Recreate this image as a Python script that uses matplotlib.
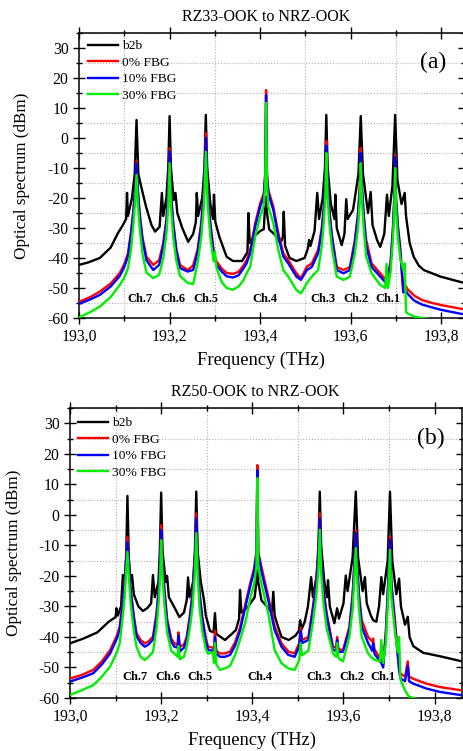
import matplotlib
matplotlib.use("Agg")
import matplotlib.pyplot as plt
from matplotlib.ticker import MultipleLocator, FuncFormatter

plt.rcParams['font.family'] = ['Liberation Serif', 'DejaVu Serif']
plt.rcParams['axes.unicode_minus'] = False

labels = ["b2b", "0% FBG", "10% FBG", "30% FBG"]
colors = ["black", "#ff0000", "#0000ff", "#00ee00"]
channels = ["Ch.7", "Ch.6", "Ch.5", "Ch.4", "Ch.3", "Ch.2", "Ch.1"]
titles = ["RZ33-OOK to NRZ-OOK", "RZ50-OOK to NRZ-OOK"]

# ---- panel (a): RZ33 ----
a_f_b2b = [193.000, 193.020, 193.046, 193.070, 193.086, 193.095, 193.104, 193.106, 193.108, 193.117,
           193.123, 193.127, 193.131, 193.139, 193.148, 193.160, 193.168, 193.178, 193.183, 193.186,
           193.193, 193.197, 193.200, 193.203, 193.209, 193.213, 193.217, 193.228, 193.241, 193.252,
           193.258, 193.260, 193.263, 193.272, 193.277, 193.280, 193.283, 193.290, 193.296, 193.298,
           193.301, 193.310, 193.326, 193.340, 193.360, 193.372, 193.374, 193.377, 193.385, 193.400,
           193.408, 193.411, 193.413, 193.415, 193.420, 193.433, 193.445, 193.450, 193.452, 193.455,
           193.465, 193.480, 193.498, 193.505, 193.508, 193.511, 193.520, 193.526, 193.530, 193.538,
           193.543, 193.546, 193.549, 193.556, 193.564, 193.566, 193.569, 193.580, 193.586, 193.590,
           193.593, 193.605, 193.617, 193.622, 193.627, 193.638, 193.644, 193.648, 193.658, 193.665,
           193.674, 193.680, 193.684, 193.692, 193.698, 193.703, 193.712, 193.719, 193.722, 193.730,
           193.739, 193.750, 193.761, 193.798, 193.850]
a_b2b = [-42.3, -41.5, -40.0, -36.5, -31.7, -29.5, -27.0, -18.3, -26.0, -20.0,
         -12.0, 6.0, -12.0, -17.3, -22.9, -29.0, -31.2, -29.6, -18.3, -26.0,
         -20.0, -10.0, 7.3, -10.0, -20.7, -18.3, -25.0, -30.0, -34.6, -32.0,
         -28.0, -18.3, -26.0, -20.0, -10.0, 7.7, -10.0, -22.0, -27.0, -18.9,
         -28.0, -33.0, -39.6, -41.0, -41.0, -38.0, -25.0, -35.0, -33.0, -31.0,
         -30.4, -22.0, -19.6, -25.0, -30.5, -32.3, -35.0, -33.0, -24.6, -36.0,
         -40.0, -41.0, -40.0, -37.0, -34.0, -36.0, -31.0, -18.3, -27.0, -20.0,
         -10.0, 7.7, -10.0, -22.0, -27.0, -18.9, -30.0, -35.7, -32.0, -20.4,
         -27.0, -24.0, -12.0, 7.3, -12.0, -25.0, -18.0, -29.0, -34.0, -36.3,
         -32.0, -18.9, -26.0, -16.0, 7.7, -14.0, -22.0, -18.3, -26.0, -35.0,
         -39.6, -42.5, -44.0, -46.2, -48.3]

a_f_fbg = [193.000, 193.025, 193.046, 193.070, 193.090, 193.100, 193.108, 193.115, 193.120, 193.124,
           193.127, 193.130, 193.134, 193.140, 193.149, 193.164, 193.177, 193.186, 193.193, 193.197,
           193.200, 193.203, 193.208, 193.215, 193.223, 193.240, 193.252, 193.262, 193.270, 193.276,
           193.280, 193.284, 193.290, 193.297, 193.300, 193.304, 193.315, 193.326, 193.340, 193.352,
           193.363, 193.370, 193.378, 193.389, 193.400, 193.408, 193.411, 193.413, 193.415, 193.418,
           193.429, 193.440, 193.451, 193.462, 193.480, 193.490, 193.503, 193.514, 193.528, 193.536,
           193.541, 193.544, 193.546, 193.549, 193.553, 193.558, 193.569, 193.584, 193.598, 193.609,
           193.616, 193.620, 193.622, 193.625, 193.629, 193.634, 193.646, 193.665, 193.676, 193.679,
           193.682, 193.688, 193.693, 193.696, 193.698, 193.700, 193.704, 193.709, 193.716, 193.719,
           193.722, 193.726, 193.740, 193.757, 193.780, 193.800, 193.850]
a_fbg0 = [-54.6, -53.0, -51.2, -48.5, -45.0, -42.0, -38.5, -31.0, -24.0, -16.0,
          -7.6, -17.0, -25.0, -33.0, -39.6, -42.3, -40.7, -35.0, -27.0, -18.0,
          -3.4, -18.0, -28.0, -37.0, -42.3, -44.0, -42.5, -37.0, -28.0, -17.0,
          1.6, -17.0, -28.0, -37.0, -39.5, -41.2, -43.5, -45.0, -45.3, -44.6,
          -42.6, -40.7, -37.3, -28.4, -21.8, -18.4, -12.0, 16.0, -12.0, -17.3,
          -22.9, -31.7, -38.4, -40.7, -45.1, -46.8, -42.9, -41.8, -37.3, -30.0,
          -22.0, -14.0, -1.0, -15.0, -24.0, -31.8, -43.0, -44.0, -43.0, -34.0,
          -25.0, -16.0, -3.3, -17.0, -26.0, -34.0, -41.8, -45.1, -47.0, -47.3,
          -46.0, -41.0, -30.0, -20.0, -5.7, -20.0, -29.0, -36.0, -50.5, -49.0,
          -49.5, -50.5, -52.5, -54.0, -55.0, -55.7, -57.1]
a_fbg10 = [-55.3, -53.8, -52.3, -49.5, -46.0, -43.0, -39.5, -32.0, -25.0, -17.0,
           -8.5, -18.0, -26.0, -34.0, -40.8, -44.0, -42.3, -36.0, -28.0, -19.0,
           -4.5, -19.0, -29.0, -38.0, -43.4, -44.5, -44.0, -38.0, -29.0, -18.0,
           0.0, -18.0, -29.5, -38.0, -40.5, -42.3, -44.5, -46.1, -46.5, -45.8,
           -43.5, -41.8, -38.4, -29.5, -22.9, -19.5, -13.0, 14.3, -13.0, -18.5,
           -24.0, -32.8, -39.5, -41.8, -46.2, -47.3, -44.0, -43.0, -38.4, -31.0,
           -23.0, -15.0, -2.6, -16.0, -25.0, -33.0, -44.0, -45.1, -44.0, -35.0,
           -26.0, -17.0, -5.0, -18.0, -27.0, -36.0, -43.0, -46.2, -48.0, -48.4,
           -47.0, -42.0, -31.0, -21.0, -6.4, -21.0, -30.0, -37.5, -51.5, -51.0,
           -51.0, -52.0, -54.2, -55.5, -56.5, -57.3, -58.8]
a_fbg30 = [-59.8, -58.0, -56.2, -53.0, -49.0, -46.5, -43.5, -37.0, -29.0, -21.0,
           -12.3, -22.0, -30.0, -38.5, -44.9, -46.7, -45.6, -40.0, -32.0, -23.0,
           -8.4, -23.0, -33.0, -41.0, -46.0, -48.3, -48.7, -41.5, -33.0, -22.0,
           -4.6, -22.0, -33.0, -41.0, -38.0, -43.4, -48.0, -50.0, -50.6, -49.5,
           -47.5, -45.1, -42.9, -32.9, -26.2, -22.5, -16.0, 11.7, -16.0, -22.9,
           -28.4, -37.3, -44.0, -46.2, -50.7, -51.8, -48.4, -46.2, -44.0, -36.0,
           -27.0, -19.0, -5.0, -20.0, -29.0, -36.2, -46.2, -47.3, -46.2, -38.5,
           -30.0, -21.0, -8.4, -22.0, -31.0, -39.5, -45.1, -49.0, -50.0, -42.0,
           -50.0, -44.5, -34.0, -24.0, -10.0, -24.0, -33.0, -40.0, -44.0, -41.8,
           -58.0, -58.5, -59.5, -60.0, -60.5, -61.0, -61.0]

# ---- panel (b): RZ50 ----
b_f_b2b = [193.000, 193.030, 193.060, 193.085, 193.100, 193.102, 193.105, 193.112, 193.116, 193.119,
           193.123, 193.126, 193.129, 193.133, 193.136, 193.140, 193.150, 193.160, 193.170, 193.178,
           193.182, 193.186, 193.194, 193.197, 193.200, 193.203, 193.210, 193.213, 193.217, 193.228,
           193.240, 193.250, 193.256, 193.259, 193.262, 193.270, 193.274, 193.277, 193.280, 193.287,
           193.294, 193.298, 193.307, 193.315, 193.318, 193.321, 193.340, 193.355, 193.364, 193.371,
           193.373, 193.376, 193.391, 193.405, 193.409, 193.411, 193.413, 193.420, 193.435, 193.443,
           193.446, 193.449, 193.455, 193.464, 193.480, 193.495, 193.502, 193.505, 193.508, 193.515,
           193.522, 193.529, 193.533, 193.541, 193.545, 193.548, 193.551, 193.558, 193.564, 193.566,
           193.570, 193.580, 193.586, 193.590, 193.600, 193.605, 193.609, 193.620, 193.627, 193.632,
           193.642, 193.647, 193.651, 193.660, 193.665, 193.672, 193.678, 193.683, 193.687, 193.697,
           193.702, 193.707, 193.716, 193.722, 193.726, 193.735, 193.741, 193.745, 193.753, 193.775,
           193.811, 193.860]
b_b2b = [-42.1, -40.5, -38.5, -35.0, -33.5, -30.6, -33.0, -30.0, -19.7, -26.0,
         -15.0, 6.2, -14.0, -22.0, -19.7, -26.0, -30.0, -31.5, -30.5, -29.0,
         -19.7, -27.0, -22.0, -12.0, 7.3, -12.0, -22.0, -20.0, -27.0, -30.0,
         -33.5, -32.0, -28.0, -20.5, -27.0, -22.0, -12.0, 7.6, -12.0, -22.0,
         -28.0, -33.0, -38.0, -38.5, -32.2, -39.0, -41.0, -39.0, -37.7, -34.0,
         -24.6, -32.0, -30.0, -27.0, -22.0, -15.9, -22.0, -28.0, -30.5, -32.0,
         -25.2, -33.0, -36.0, -40.0, -41.0, -39.5, -38.0, -34.5, -37.5, -35.0,
         -30.0, -20.4, -27.0, -20.0, -10.0, 7.6, -10.0, -22.0, -27.0, -21.4,
         -30.0, -35.5, -30.6, -34.0, -29.0, -19.9, -25.0, -14.0, 7.6, -14.0,
         -25.0, -20.4, -29.0, -33.0, -34.5, -35.0, -30.0, -20.4, -26.0, -15.0,
         7.6, -15.0, -26.0, -20.9, -30.0, -36.0, -33.4, -40.0, -43.0, -45.2,
         -46.3, -48.0]

b_f_fbg = [193.000, 193.025, 193.051, 193.070, 193.088, 193.103, 193.109, 193.116, 193.120, 193.123,
           193.126, 193.129, 193.133, 193.140, 193.146, 193.155, 193.164, 193.172, 193.182, 193.190,
           193.195, 193.198, 193.200, 193.203, 193.207, 193.213, 193.222, 193.229, 193.236, 193.238,
           193.241, 193.250, 193.256, 193.263, 193.269, 193.274, 193.277, 193.280, 193.284, 193.290,
           193.298, 193.303, 193.313, 193.316, 193.318, 193.321, 193.329, 193.340, 193.351, 193.362,
           193.373, 193.385, 193.396, 193.404, 193.409, 193.411, 193.413, 193.420, 193.435, 193.449,
           193.464, 193.479, 193.493, 193.503, 193.506, 193.509, 193.523, 193.533, 193.540, 193.545,
           193.548, 193.551, 193.556, 193.563, 193.577, 193.584, 193.586, 193.589, 193.599, 193.613,
           193.620, 193.624, 193.627, 193.630, 193.634, 193.640, 193.654, 193.663, 193.665, 193.668,
           193.680, 193.683, 193.687, 193.693, 193.698, 193.702, 193.705, 193.713, 193.719, 193.722,
           193.725, 193.735, 193.741, 193.744, 193.753, 193.782, 193.811, 193.860]
b_fbg0 = [-53.6, -52.5, -50.8, -48.0, -44.3, -39.5, -36.6, -28.0, -21.3, -14.0,
          -7.2, -15.0, -24.0, -33.0, -38.8, -41.0, -42.1, -41.5, -39.9, -32.0,
          -23.0, -14.0, -3.4, -15.0, -24.0, -34.0, -40.5, -42.1, -42.5, -38.5,
          -43.2, -42.5, -39.9, -33.0, -25.0, -14.0, 0.5, -14.0, -25.0, -33.0,
          -40.5, -43.2, -43.5, -44.0, -38.0, -44.5, -45.4, -45.4, -44.8, -41.8,
          -37.0, -29.0, -22.0, -17.5, -12.0, 16.3, -12.0, -17.0, -26.8, -36.6,
          -42.1, -44.8, -45.4, -42.0, -37.0, -41.0, -40.0, -30.0, -22.0, -13.0,
          0.5, -14.0, -24.0, -32.1, -43.2, -43.5, -40.0, -44.0, -44.3, -36.6,
          -26.0, -15.0, -4.9, -16.0, -26.0, -34.5, -40.0, -41.5, -40.5, -44.0,
          -47.0, -47.5, -49.1, -38.0, -22.0, -7.1, -22.0, -34.5, -45.0, -50.0,
          -52.0, -53.0, -48.0, -53.0, -53.7, -55.3, -56.4, -57.5]
b_fbg10 = [-54.6, -53.4, -51.9, -49.0, -45.4, -40.5, -37.6, -29.0, -22.3, -15.0,
           -8.9, -16.0, -25.0, -34.0, -39.8, -42.0, -43.2, -42.5, -40.9, -33.0,
           -24.0, -15.0, -5.0, -16.0, -25.0, -35.0, -41.5, -43.2, -43.5, -39.5,
           -44.8, -43.5, -40.9, -34.0, -26.0, -15.0, -1.1, -15.0, -26.0, -34.0,
           -41.5, -44.3, -44.5, -45.0, -40.0, -45.5, -46.5, -46.5, -45.9, -42.9,
           -38.0, -30.0, -23.0, -18.5, -13.0, 14.5, -13.0, -18.5, -28.0, -37.8,
           -43.2, -45.9, -46.5, -43.0, -38.0, -42.0, -41.0, -31.0, -23.0, -14.0,
           -1.1, -15.0, -25.0, -33.2, -44.3, -44.5, -41.0, -45.0, -44.8, -37.6,
           -27.0, -16.0, -6.0, -17.0, -27.0, -36.6, -42.0, -44.5, -42.0, -45.5,
           -48.0, -48.5, -50.0, -39.0, -23.0, -8.2, -23.0, -36.6, -46.0, -51.0,
           -53.5, -54.5, -49.5, -54.5, -55.3, -56.9, -58.0, -59.1]
b_fbg30 = [-59.0, -57.5, -55.8, -53.0, -49.7, -45.0, -42.1, -33.0, -26.8, -19.0,
           -12.1, -20.0, -29.0, -38.0, -43.2, -46.5, -47.6, -46.5, -45.0, -37.0,
           -28.0, -19.0, -8.3, -20.0, -29.0, -38.5, -44.5, -45.4, -46.5, -43.0,
           -47.3, -46.5, -43.2, -37.0, -30.0, -19.0, -6.0, -19.0, -30.0, -38.0,
           -44.0, -45.5, -45.0, -48.5, -42.0, -49.0, -50.8, -50.3, -49.5, -46.0,
           -41.0, -35.0, -27.0, -22.5, -17.0, 12.0, -17.0, -22.5, -32.3, -44.3,
           -48.6, -50.3, -50.8, -47.5, -42.0, -46.0, -44.5, -35.0, -27.0, -18.0,
           -4.9, -19.0, -29.0, -37.0, -45.4, -46.5, -42.0, -47.0, -48.0, -39.9,
           -31.0, -20.0, -10.9, -21.0, -31.0, -39.9, -45.4, -47.0, -47.0, -47.5,
           -48.0, -41.0, -48.5, -42.0, -27.0, -11.5, -27.0, -38.5, -45.0, -40.0,
           -54.0, -57.5, -59.0, -59.5, -60.0, -61.0, -61.0, -61.0]

panels = [
    dict(f_b2b=a_f_b2b, b2b=a_b2b, f_fbg=a_f_fbg, fbg=[a_fbg0, a_fbg10, a_fbg30],
         rect=[79 / 463, 1 - 318 / 751, 385 / 463, 285 / 751], xmax=193.85, tag="(a)",
         ch_f=[193.135, 193.208, 193.280, 193.411, 193.539, 193.612, 193.683], ch_y=-53.5,
         leg_xy=(88, 40), title_xy=(266, 17), xlab_y=360, xlab_x=261, ylab_x=22),
    dict(f_b2b=b_f_b2b, b2b=b_b2b, f_fbg=b_f_fbg, fbg=[b_fbg0, b_fbg10, b_fbg30],
         rect=[70 / 463, 1 - 698 / 751, 392 / 463, 290 / 751], xmax=193.86, tag="(b)",
         ch_f=[193.143, 193.215, 193.285, 193.416, 193.546, 193.618, 193.686], ch_y=-53.0,
         leg_xy=(78, 417), title_xy=(255, 392), xlab_y=740, xlab_x=252, ylab_x=14),
]

W, H = 463, 751
fig = plt.figure(figsize=(W / 100, H / 100), dpi=100)

for p, title in zip(panels, titles):
    ax = fig.add_axes(p["rect"])
    ax.plot(p["f_b2b"], p["b2b"], color=colors[0], lw=1.7, label=labels[0], zorder=2)
    for k, lev in enumerate(p["fbg"]):
        ax.plot(p["f_fbg"], lev, color=colors[k + 1], lw=1.7, label=labels[k + 1], zorder=3 + k)

    ax.set_xlim(193.0, p["xmax"])
    ax.set_ylim(-60, 35)
    ax.xaxis.set_major_locator(MultipleLocator(0.2))
    ax.xaxis.set_minor_locator(MultipleLocator(0.1))
    ax.yaxis.set_major_locator(MultipleLocator(10))
    ax.yaxis.set_minor_locator(MultipleLocator(5))
    ax.set_yticks(range(-60, 31, 10))
    ax.xaxis.set_major_formatter(FuncFormatter(lambda v, pos: f"{v:.1f}".replace(".", ",")))
    ax.tick_params(which="both", direction="inout", top=True, right=True, labelsize=11.3, width=1.0)
    ax.tick_params(which="major", length=8)
    ax.tick_params(which="minor", length=5)
    ax.grid(which="minor", linestyle=":", color="#b0b0b0", lw=0.8)
    for s in ax.spines.values():
        s.set_linewidth(1.1)

    for name, f in zip(channels, p["ch_f"]):
        ax.text(f, p["ch_y"], name, ha="center", va="center", fontsize=9, fontweight="bold", zorder=10)

    ax.text(0.955, 0.895, p["tag"], transform=ax.transAxes, ha="right", va="center", fontsize=17)

    lx, ly = p["leg_xy"]
    ax.legend(loc="upper left", bbox_to_anchor=(lx / W, 1 - ly / H), bbox_transform=fig.transFigure,
              frameon=False, fontsize=9.7, handlelength=2.25, handletextpad=0.25,
              labelspacing=0.3, borderpad=0, borderaxespad=0)

    tx, ty = p["title_xy"]
    fig.text(tx / W, 1 - ty / H, title, ha="center", va="center", fontsize=11.5)
    fig.text(p["xlab_x"] / W, 1 - p["xlab_y"] / H, "Frequency (THz)", ha="center", va="center", fontsize=13.3)
    rect = p["rect"]
    fig.text(p["ylab_x"] / W, rect[1] + rect[3] / 2, "Optical spectrum (dBm)", ha="center", va="center",
             rotation=90, fontsize=12.3)

fig.savefig("out.png", dpi=100)
